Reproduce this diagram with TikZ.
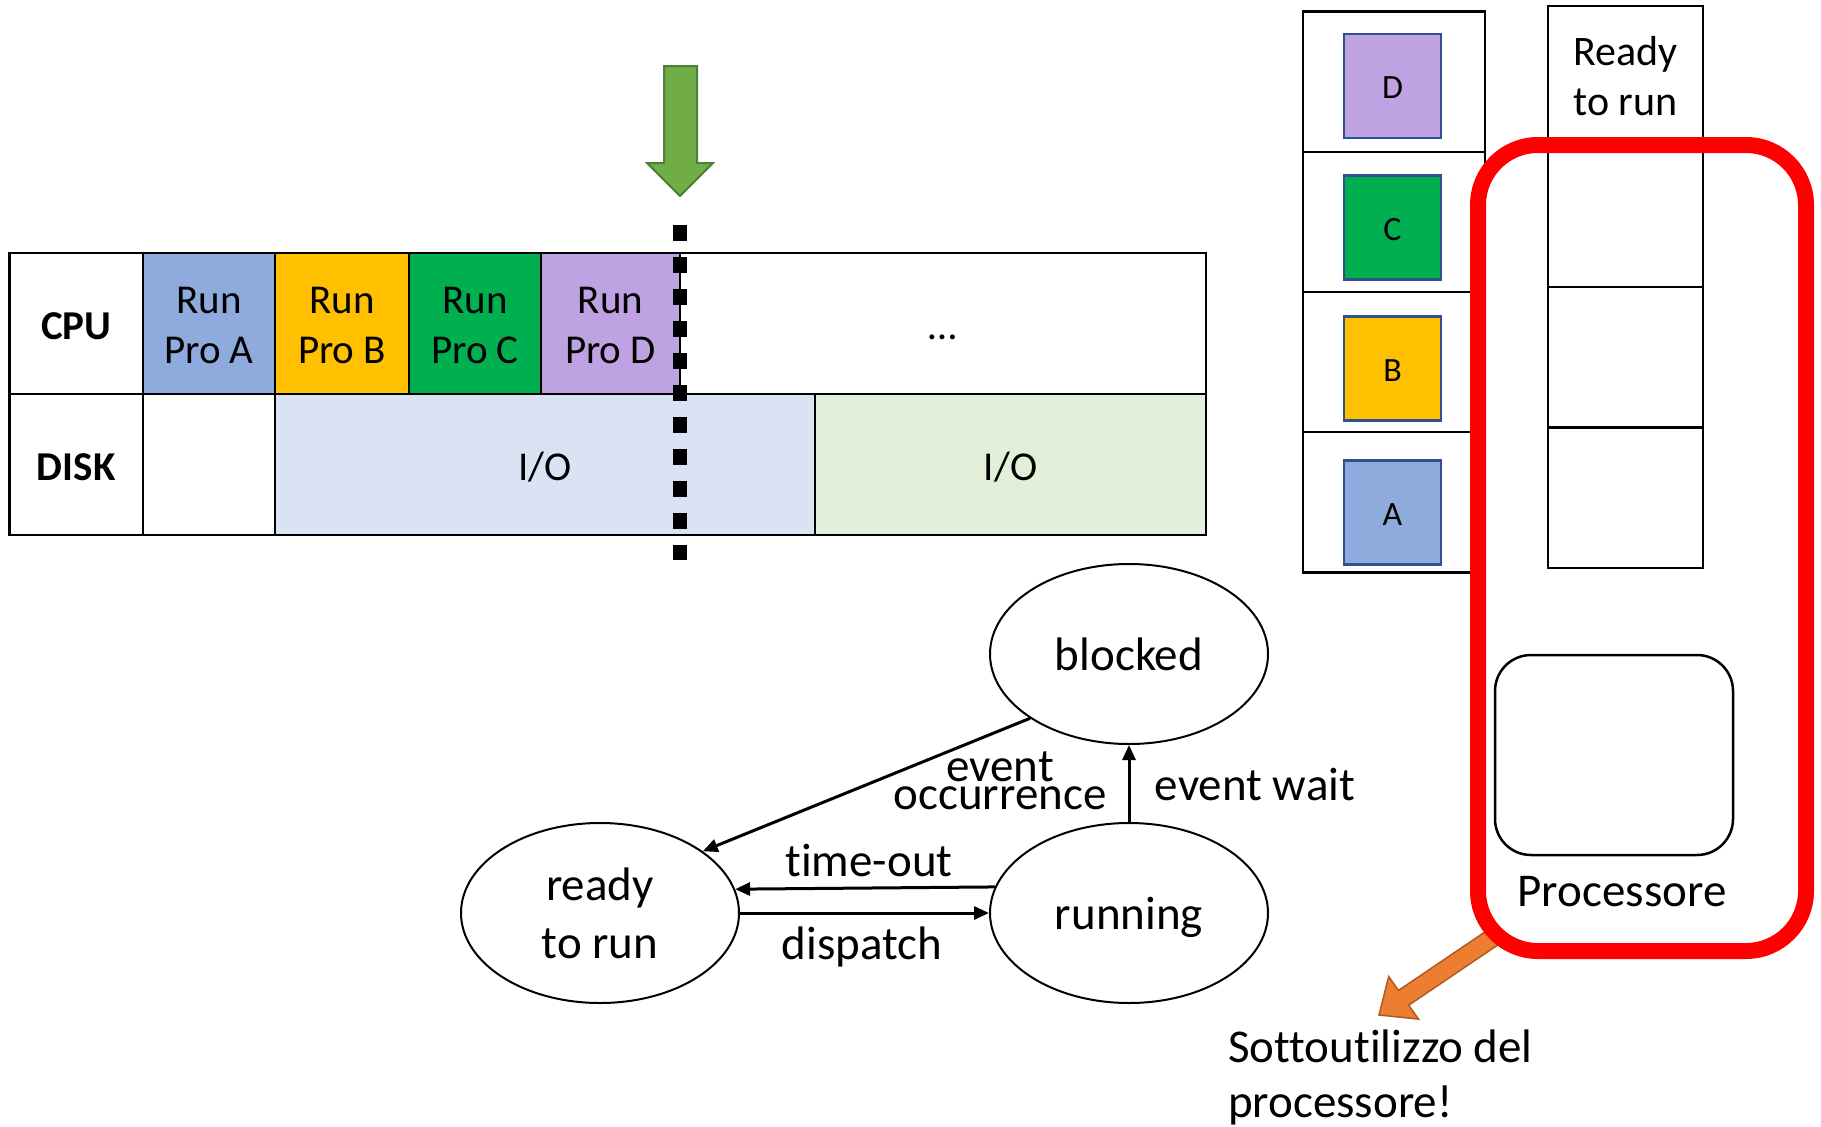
\documentclass[tikz,border=0pt]{standalone}
\usepackage{fontspec}
\setmainfont{Carlito}[Ligatures=NoCommon]
\usetikzlibrary{shapes.geometric,arrows.meta}
\definecolor{proA}{HTML}{8FAADC}
\definecolor{proB}{HTML}{FFC000}
\definecolor{proC}{HTML}{00B050}
\definecolor{proD}{HTML}{BFA2E2}
\definecolor{ioA}{HTML}{DAE3F3}
\definecolor{ioB}{HTML}{E2F0D9}
\definecolor{grarrow}{HTML}{70AD47}
\definecolor{grborder}{HTML}{507E32}
\definecolor{orarrow}{HTML}{ED7D31}
\definecolor{orborder}{HTML}{AE5A21}
\definecolor{sqborder}{HTML}{2F528F}
\newcommand{\myTop}[1]{\rule{0pt}{#1pt}}
\newcommand{\myBot}[1]{\rule[-#1pt]{0pt}{#1pt}}
\begin{document}
\begin{tikzpicture}[x=1pt,y=-1pt,
  tcell/.style={draw, line width=2.5pt, inner sep=0pt, minimum height=141pt, align=center, font=\fontsize{41}{50}\selectfont},
  oneline/.style={text height=32pt, text depth=0pt},
  scell/.style={draw, line width=2.5pt, inner sep=0pt, minimum width=182pt, minimum height=140.2pt},
  qcell/.style={draw, line width=2.5pt, inner sep=0pt, minimum width=155pt, minimum height=140.5pt, align=center, font=\fontsize{42}{50}\selectfont},
  sq/.style={draw=sqborder, line width=2.5pt, inner sep=0pt, minimum width=97pt, minimum height=104pt, font=\fontsize{34}{40}\selectfont, text height=25pt, text depth=0pt},
  state/.style={ellipse, draw, line width=2pt, inner sep=0pt, minimum width=278pt, minimum height=180pt, font=\fontsize{47}{58}\selectfont, align=center},
  stlbl/.style={inner sep=0pt, font=\fontsize{47}{58}\selectfont},
  conn/.style={line width=3pt, -{Triangle[length=15pt, width=13pt]}}
]
\useasboundingbox (0,0) rectangle (1821,1127);

% ---- timeline table ----
\node[tcell, oneline, minimum width=133.5pt, font=\fontsize{41}{50}\selectfont\bfseries] (cpu) at (76.25,323.5) {CPU};
\node[tcell, fill=proA, minimum width=132pt] (ra) at (209,323.5) {\myTop{35}Run\\Pro A\myBot{6}};
\node[tcell, fill=proB, minimum width=134pt] (rb) at (342,323.5) {\myTop{35}Run\\Pro B\myBot{6}};
\node[tcell, fill=proC, minimum width=132pt] (rc) at (475,323.5) {\myTop{35}Run\\Pro C\myBot{6}};
\node[tcell, fill=proD, minimum width=139pt] (rd) at (610.5,323.5) {\myTop{35}Run\\Pro D\myBot{6}};
\node[tcell, oneline, minimum width=526pt] (rest) at (943,323.5) {\ldots};
\node[tcell, oneline, minimum width=133.5pt, font=\fontsize{41}{50}\selectfont\bfseries] (disk) at (76.25,464.5) {DISK};
\node[tcell, minimum width=132pt] (empty) at (209,464.5) {};
\node[tcell, oneline, fill=ioA, minimum width=540pt] (io1) at (545,464.5) {I/O};
\node[tcell, oneline, fill=ioB, minimum width=391pt] (io2) at (1010.5,464.5) {I/O};

% dotted marker line
\coordinate (dtop) at (680,225);
\coordinate (dbot) at (680,560);
\draw[line width=14pt, dash pattern=on 16pt off 16pt] (dtop) -- (dbot);

% green arrow
\draw[fill=grarrow, draw=grborder, line width=2pt, line join=miter]
  (664,66) -- (697,66) -- (697,163) -- (713,163) -- (680,196) -- (647,163) -- (664,163) -- cycle;

% ---- process stack ----
\node[scell] (s4) at (1394,81.7) {};
\node[scell] (s3) at (1394,221.9) {};
\node[scell] (s2) at (1394,362.1) {};
\node[scell] (s1) at (1394,502.3) {};
\node[sq, fill=proD] (pD) at (1392.5,86) {D};
\node[sq, fill=proC] (pC) at (1392.5,227.5) {C};
\node[sq, fill=proB] (pB) at (1392.5,368.5) {B};
\node[sq, fill=proA] (pA) at (1392.5,512.5) {A};

% ---- ready queue ----
\node[qcell] (q0) at (1625.5,76.25) {\myTop{36}Ready\\to run\myBot{8}};
\node[qcell] (q1) at (1625.5,216.75) {};
\node[qcell] (q2) at (1625.5,357.25) {};
\node[qcell] (q3) at (1625.5,497.75) {};

% processor
\node[draw, line width=2.5pt, rounded corners=36pt, minimum width=238pt, minimum height=200pt, inner sep=0pt] (proc) at (1614,755) {};
\node[anchor=base, inner sep=0pt, font=\fontsize{47}{55}\selectfont] (proclbl) at (1622,906) {Processore};

% orange arrow
\draw[fill=orarrow, draw=orborder, line width=1.5pt, line join=miter]
  (1489.9,928.6) -- (1398.5,990.4) -- (1388.7,976.5) -- (1379,1015) -- (1418.5,1019.1) -- (1408.7,1005.2) -- (1500.1,943.4) -- cycle;

% red group
\node[draw=red, line width=16pt, rounded corners=60pt, minimum width=328pt, minimum height=806pt, inner sep=0pt] (grp) at (1642,548) {};

\node[anchor=north west, inner sep=0pt, align=left, font=\fontsize{47}{55}\selectfont] (under) at (1228,1022) {\myTop{40}Sottoutilizzo del\\processore!};

% ---- state diagram ----
\node[state, text height=32pt, text depth=0pt] (blocked) at (1129,654) {blocked};
\node[state] (ready) at (600,913) {\myTop{40}ready\\to run\myBot{8}};
\node[state, text height=32pt, text depth=0pt] (running) at (1129,913) {running};

\draw[conn] (blocked.213.7) -- (ready.31.7);
\draw[conn] (running.north) -- (blocked.south);
\draw[conn] (running.169.4) -- (ready.10.6);
\draw[conn] (ready.east) -- (running.west);

\node[stlbl, align=center, font=\fontsize{47}{28}\selectfont] (lOcc) at (1000,781) {event\\occurrence};
\node[stlbl, anchor=base] (lWait) at (1255,800) {event wait};
\node[stlbl, anchor=base] (lTime) at (869,876) {time-out};
\node[stlbl, anchor=base] (lDisp) at (862,959) {dispatch};
\end{tikzpicture}
\end{document}
